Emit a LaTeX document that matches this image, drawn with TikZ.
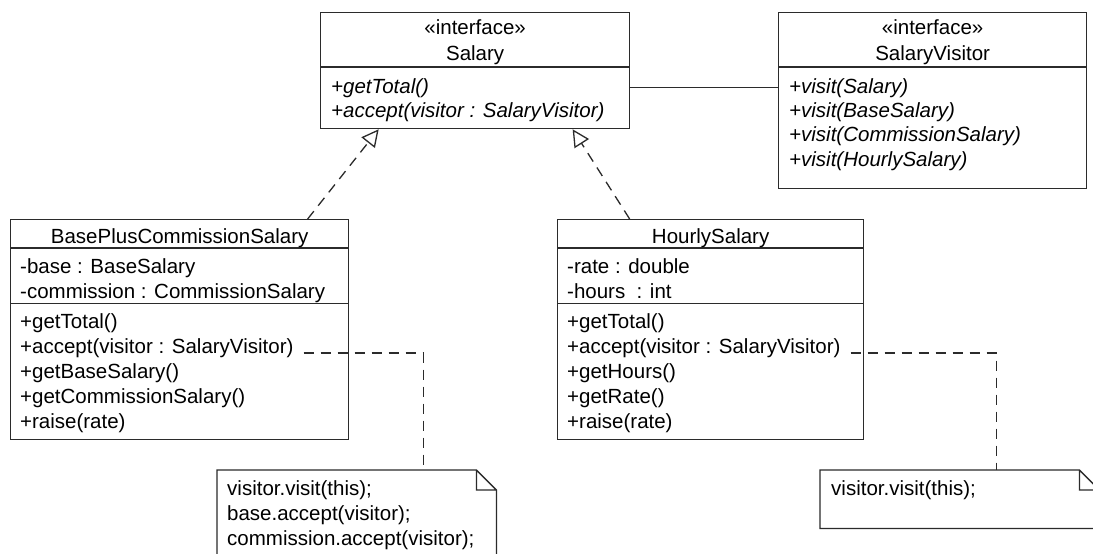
\documentclass[tikz,border=0pt]{standalone}
\usepackage{fontspec}
\setmainfont{Liberation Sans}
\usepackage{xcolor}
\definecolor{umlLine}{HTML}{2B2B2B}
\usepackage{tikz}
\usetikzlibrary{calc}
\usetikzlibrary{arrows.meta}
\tikzset{
    classbox/.style={draw=umlLine, line width=1.3pt, anchor=north west, inner sep=0pt},
    notebox/.style={anchor=north west, inner sep=0pt},
    umlrule/.style={draw=umlLine, line width=1.3pt},
    member/.style={anchor=mid west, inner sep=0pt, font=\fontsize{20.5}{24}\selectfont},
    opmember/.style={member, font=\fontsize{20.5}{24}\selectfont\itshape},
    heading/.style={anchor=mid, inner sep=0pt, font=\fontsize{20.5}{24}\selectfont},
    realize/.style={umlrule, dash pattern=on 10pt off 7pt, -{Triangle[open, length=17pt, width=17pt]}},
    notelink/.style={umlrule, dash pattern=on 10pt off 7pt}
}

\begin{document}
\begin{tikzpicture}[x=1pt, y=-1pt]
  \clip (0,0) rectangle (1093,554);
  \fill[white] (0,0) rectangle (1093,554);

  % class boxes
  \node[classbox, minimum width=309pt, minimum height=116pt] (salary)  at (320,12)  {};
  \node[classbox, minimum width=308pt, minimum height=176pt] (visitor) at (778,12)  {};
  \node[classbox, minimum width=338pt, minimum height=220pt] (bpcs)    at (10,219)  {};
  \node[classbox, minimum width=306pt, minimum height=220pt] (hourly)  at (557,219) {};

  % compartment rules
  \draw[umlrule] ([yshift=-55pt]salary.north west)  -- ([yshift=-55pt]salary.north east);
  \draw[umlrule] ([yshift=-55pt]visitor.north west) -- ([yshift=-55pt]visitor.north east);
  \foreach \b in {bpcs, hourly} {
    \draw[umlrule] ([yshift=-29pt]\b.north west) -- ([yshift=-29pt]\b.north east);
    \draw[umlrule] ([yshift=-84.5pt]\b.north west) -- ([yshift=-84.5pt]\b.north east);
  }

  % interface headings
  \node[heading] (salStereo) at ([yshift=-20pt]salary.north)  {«interface»};
  \node[heading] (salName)   at ([yshift=-46pt]salary.north)  {Salary};
  \node[heading] (visStereo) at ([yshift=-20pt]visitor.north) {«interface»};
  \node[heading] (visName)   at ([yshift=-46pt]visitor.north) {SalaryVisitor};

  % abstract operations
  \foreach \txt [count=\i] in {+getTotal(), +accept(visitor : SalaryVisitor)}
    \node[opmember] (salOp\i) at ([xshift=11pt, yshift={-(78.5+24.3*(\i-1))}]salary.north west) {\txt};
  \foreach \txt [count=\i] in {+visit(Salary), +visit(BaseSalary), +visit(CommissionSalary), +visit(HourlySalary)}
    \node[opmember] (visOp\i) at ([xshift=11pt, yshift={-(78.5+24.3*(\i-1))}]visitor.north west) {\txt};

  % concrete classes
  \node[heading] (bpName) at ([yshift=-21.5pt]bpcs.north)   {BasePlusCommissionSalary};
  \node[heading] (hName)  at ([yshift=-21.5pt]hourly.north) {HourlySalary};
  \foreach \txt [count=\i] in {-base : BaseSalary, -commission : CommissionSalary}
    \node[member] (bpAttr\i) at ([xshift=10pt, yshift={-(51.5+25*(\i-1))}]bpcs.north west) {\txt};
  \foreach \txt [count=\i] in {+getTotal(), +accept(visitor : SalaryVisitor), +getBaseSalary(), +getCommissionSalary(), +raise(rate)}
    \node[member] (bpOp\i) at ([xshift=10pt, yshift={-(106.5+25*(\i-1))}]bpcs.north west) {\txt};
  \foreach \txt [count=\i] in {-rate : double, -hours~ : int}
    \node[member] (hAttr\i) at ([xshift=10pt, yshift={-(51.5+25*(\i-1))}]hourly.north west) {\txt};
  \foreach \txt [count=\i] in {+getTotal(), +accept(visitor : SalaryVisitor), +getHours(), +getRate(), +raise(rate)}
    \node[member] (hOp\i) at ([xshift=10pt, yshift={-(106.5+25*(\i-1))}]hourly.north west) {\txt};

  % notes with folded corner
  \node[notebox, minimum width=279pt, minimum height=90pt] (noteA) at (217,470) {};
  \node[notebox, minimum width=279pt, minimum height=58pt] (noteB) at (820,470) {};
  \foreach \n in {noteA, noteB}
    \draw[umlrule] (\n.north west) -- ([xshift=-20pt]\n.north east) -- ([yshift=-20pt]\n.north east)
      -- (\n.south east) -- (\n.south west) -- cycle
      ([xshift=-20pt]\n.north east) |- ([yshift=-20pt]\n.north east);
  \foreach \txt [count=\i] in {visitor.visit(this);, base.accept(visitor);, commission.accept(visitor);}
    \node[member] (noteA\i) at ([xshift=10pt, yshift={-(22.5+25*(\i-1))}]noteA.north west) {\txt};
  \node[member] (noteB1) at ([xshift=11pt, yshift=-22.5pt]noteB.north west) {visitor.visit(this);};

  % realizations and association
  \draw[realize] ([xshift=128pt]bpcs.north) -- ([xshift=-96.5pt]salary.south);
  \draw[realize] ([xshift=-81pt]hourly.north) -- ([xshift=97.5pt]salary.south);
  \draw[umlrule] (salOp1 -| salary.east) -- (salOp1 -| visitor.west);

  % note links
  \draw[notelink] ([xshift=10pt]bpOp2.base east) -| ([xshift=66.5pt]noteA.north);
  \draw[notelink] ([xshift=10pt]hOp2.base east) -| ([xshift=36.5pt]noteB.north);
\end{tikzpicture}
\end{document}
